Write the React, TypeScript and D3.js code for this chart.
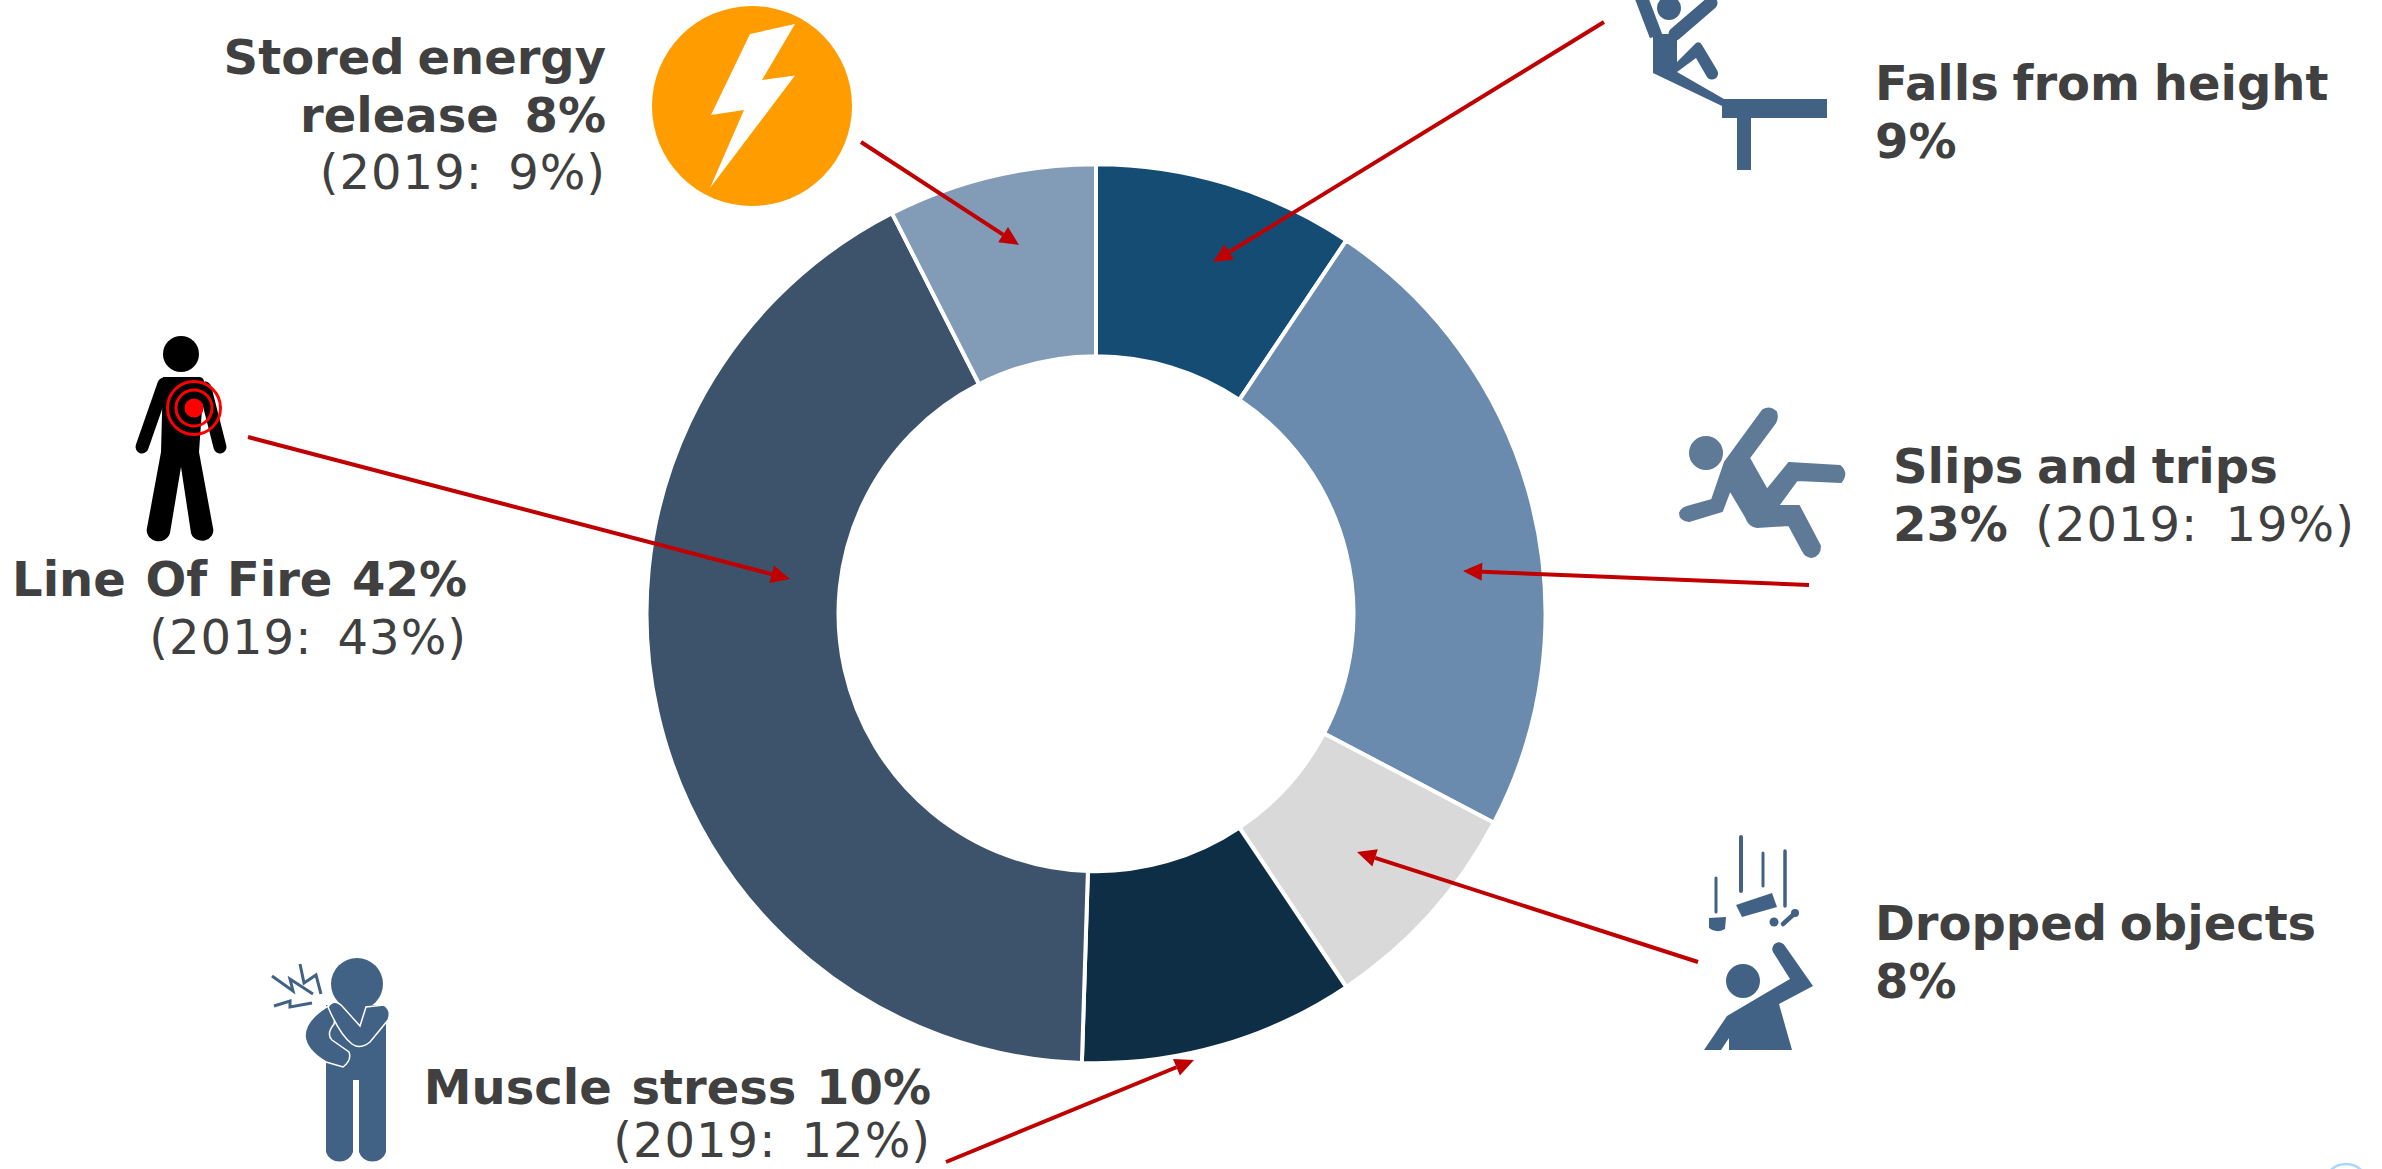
import React from "react";
import * as d3 from "d3";

const categories = ["Falls from height", "Slips and trips", "Dropped objects", "Muscle stress", "Line Of Fire", "Stored energy release"];
const shares = [9.4, 23.3, 7.9, 9.9, 42, 7.5];
const colours = ["#154C73", "#6A8BAD", "#D9D9D9", "#0E2E45", "#3D536B", "#829CB8"];

// label wording: each label is a list of lines, each line a list of [text, bold]
const storedText: [string, boolean][][] = [[["Stored energy", true]], [["release 8%", true]], [["(2019: 9%)", false]]];
const fallsText: [string, boolean][][] = [[["Falls from height", true]], [["9%", true]]];
const slipsText: [string, boolean][][] = [[["Slips and trips", true]], [["23%", true], [" (2019: 19%)", false]]];
const droppedText: [string, boolean][][] = [[["Dropped objects", true]], [["8%", true]]];
const muscleText: [string, boolean][][] = [[["Muscle stress 10%", true]], [["(2019: 12%)", false]]];
const lineOfFireText: [string, boolean][][] = [[["Line Of Fire 42%", true]], [["(2019: 43%)", false]]];

// layout of the annotations, kept apart from the data
const labelLayout = [
  { text: storedText, x: 606, anchor: "end", ys: [74, 132, 189], ws: [-4, 9, 9] },
  { text: fallsText, x: 1875, anchor: "start", ys: [100, 158], ws: [-3, 0] },
  { text: slipsText, x: 1893, anchor: "start", ys: [483, 541], ws: [-3, 11] },
  { text: droppedText, x: 1875, anchor: "start", ys: [940, 998], ws: [-4, 0] },
  { text: muscleText, x: 931, anchor: "end", ys: [1104, 1157], ws: [3, 9] },
  { text: lineOfFireText, x: 467, anchor: "end", ys: [596, 654], ws: [3, 9] },
];

const arrows = [
  [861, 142, 1019, 245],
  [1604, 22, 1213, 262],
  [1809, 585, 1463, 571],
  [1698, 962, 1357, 852],
  [946, 1162, 1194, 1060],
  [248, 437, 790, 579],
];

const BLUE = "#426285";

function Arrow({ a }: { a: number[] }) {
  const [x1, y1, x2, y2] = a;
  const ang = Math.atan2(y2 - y1, x2 - x1);
  const len = 19, hw = 9;
  const bx = x2 - len * Math.cos(ang), by = y2 - len * Math.sin(ang);
  const nx = -Math.sin(ang), ny = Math.cos(ang);
  return (
    <g>
      <line x1={x1} y1={y1} x2={bx} y2={by} stroke="#C00000" strokeWidth={4} />
      <polygon fill="#C00000" points={`${x2},${y2} ${bx + nx * hw},${by + ny * hw} ${bx - nx * hw},${by - ny * hw}`} />
    </g>
  );
}

function Icons() {
  return (
    <g>
      {/* lightning */}
      <circle cx={752} cy={106} r={100} fill="#FF9C00" />
      <polygon fill="#fff" points="750,34 795,24 762,80 795,75.5 710,188 744,110 711,115" />

      {/* line of fire person */}
      <g fill="#000" stroke="none">
        <ellipse cx={181} cy={354} rx={18} ry={18} />
        <path d="M163,377 L199,377 Q203,377 204,381 L199,452 L213,528 A11,10 0 0 1 191,533 L181,467 L170,533 A11,10 0 0 1 147,528 L161,452 Z" />
        <line x1={164} y1={384} x2={142} y2={447} stroke="#000" strokeWidth={13} strokeLinecap="round" />
        <line x1={205} y1={388} x2={220} y2={447} stroke="#000" strokeWidth={13} strokeLinecap="round" />
      </g>
      <g fill="none" stroke="#FF0000" strokeWidth={3}>
        <circle cx={194} cy={408} r={26.5} />
        <circle cx={194} cy={408} r={18} />
      </g>
      <circle cx={194} cy={408} r={9.5} fill="#FF0000" />

      {/* falls */}
      <g fill={BLUE}>
        <circle cx={1669} cy={8} r={12} />
        <path d="M1653,34 L1677,34 L1677,62 L1696,43 Q1700,41 1702,45 L1717,70 A6,6 0 0 1 1707,77 L1696,58 L1677,72 L1724,99 L1827,99 L1827,118 L1751,118 L1751,170 L1737,170 L1737,118 L1722,118 L1722,106 L1653,73 Z" />
        <line x1={1656} y1={36} x2={1640} y2={-6} stroke={BLUE} strokeWidth={13} />
        <line x1={1675} y1={34} x2={1711} y2={3} stroke={BLUE} strokeWidth={13} strokeLinecap="round" />
      </g>

      {/* slips */}
      <g fill="#5F7A97" stroke="#5F7A97" strokeWidth={2} strokeLinejoin="round">
        <ellipse cx={1706} cy={453} rx={16} ry={16} />
        <path d="M1725,462 L1763,410 Q1770,406 1776,412 Q1778,418 1775,423 L1749,458 L1767,490 L1789,463 L1840,466 Q1848,473 1841,482 L1797,480 L1778,506 L1799,506 L1820,546 Q1820,556 1811,557 Q1805,556 1803,551 L1789,525 L1757,527 Q1749,526 1746,517 L1730,490 L1722,511 L1689,521 Q1680,520 1680,513 Q1682,508 1687,507 L1712,500 Z" />
      </g>

      {/* dropped */}
      <g fill={BLUE}>
        <g stroke={BLUE} strokeLinecap="round">
          <line x1={1716} y1={878} x2={1716} y2={912} strokeWidth={3} />
          <line x1={1741} y1={837} x2={1741} y2={891} strokeWidth={4} />
          <line x1={1763} y1={853} x2={1763} y2={886} strokeWidth={3} />
          <line x1={1785} y1={851} x2={1785} y2={906} strokeWidth={3.5} />
          <line x1={1783} y1={924} x2={1794} y2={914} strokeWidth={4.5} />
        </g>
        <circle cx={1795} cy={913} r={4} />
        <polygon points="1736,905 1772,893 1777,907 1742,917" />
        <path d="M1709,918 L1726,917 L1725,929 Q1716,934 1709,928 Z" />
        <circle cx={1774} cy={922} r={4.5} />
        <ellipse cx={1743} cy={981} rx={17} ry={17} />
        <path d="M1727,1016 L1790,979 L1773,952 A6.5,6.5 0 0 1 1785,946 L1813,986 L1779,1004 L1792,1050 L1729,1050 L1729,1038 L1721,1050 L1704,1050 Z" />
      </g>

      {/* muscle */}
      <g>
        <ellipse cx={357} cy={984} rx={26} ry={26} fill={BLUE} />
        <path d="M326,1005 L386,1005 L386,1152 A14,13 0 0 1 359,1152 L359,1080 L353,1080 L353,1152 A14,13 0 0 1 326,1152 Z" fill={BLUE} />
        <path d="M337,1003 Q334,1000 328,1006 Q305,1020 305,1036 Q306,1050 326,1062 L343,1067 Q352,1060 349,1052 L332,1040 Q326,1034 334,1024 Z" fill={BLUE} stroke="#fff" strokeWidth={1.5} />
        <path d="M328,1007 Q334,998 342,1006 L360,1026 L366,1007 L384,1005 Q392,1010 388,1020 L370,1042 Q360,1050 352,1044 Q340,1035 328,1007 Z" fill={BLUE} stroke="#fff" strokeWidth={1.5} />
        <g fill="none" stroke={BLUE} strokeWidth={3}>
          <path d="M272,976 L293,991 L290,979 L313,994" />
          <path d="M300,964 L304,983 L316,975 L321,994" />
          <path d="M274,1006 L290,1001 L290,1007 L312,1003" />
        </g>
      </g>
    </g>
  );
}

export default function App() {
  const cx = 1096, cy = 613.7;
  const pie = d3.pie<number>().sort(null).value((d) => d);
  const arc = d3.arc<d3.PieArcDatum<number>>().innerRadius(257.5).outerRadius(449.5);
  const arcs = pie(shares);
  return (
    <svg width={2382} height={1169} style={{ position: "fixed", left: 0, top: 0, background: "#fff" }} fontFamily="'DejaVu Sans'">
      <g transform={`translate(${cx},${cy})`}>
        {arcs.map((d, i) => (
          <path key={categories[i]} d={arc(d) as string} fill={colours[i]} stroke="#fff" strokeWidth={4} />
        ))}
      </g>
      <Icons />
      {arrows.map((a, i) => <Arrow key={i} a={a} />)}
      {labelLayout.map((l, i) => (
        <text key={i} textAnchor={l.anchor} fontSize={48} fill="#404040" xmlSpace="preserve">
          {l.text.map((runs, j) => (
            <tspan key={j} x={l.x} y={l.ys[j]}>
              {runs.map(([t, bold], k) => (
                <tspan
                  key={k}
                  fontWeight={bold ? 700 : 400}
                  letterSpacing={bold ? 0 : 1}
                  wordSpacing={l.ws[j]}
                >{t}</tspan>
              ))}
            </tspan>
          ))}
        </text>
      ))}
      <circle cx={2346} cy={1186} r={22} fill="none" stroke="#A8D8FF" strokeWidth={2.5} />
    </svg>
  );
}
